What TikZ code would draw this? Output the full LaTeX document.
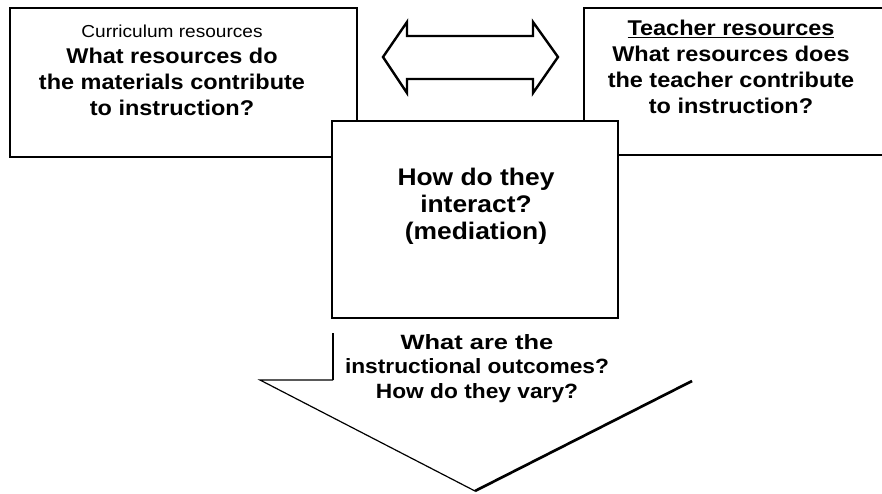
\documentclass[tikz,border=0pt]{standalone}
\usepackage{fontspec}
\setmainfont{Liberation Sans}
\usepackage{graphicx}
\usetikzlibrary{positioning}
\newcommand{\widetext}[1]{\scalebox{1.1}[1]{\begin{tabular}{@{}c@{}}#1\end{tabular}}}

\begin{document}
\begin{tikzpicture}[x=0.75pt,y=-0.75pt,
  box/.style={draw,fill=white,line width=2.2pt},
  boldtext/.style={inner sep=0pt,font=\bfseries\fontsize{16}{19.6}\selectfont}]
 \useasboundingbox (0,0) rectangle (882,493);
 \clip (0,0) rectangle (882,493);
 \draw[box](10,8) rectangle (357,157);
 \draw[box](584,8) rectangle (900,155);
 \draw[box](332,121) rectangle (618,318);
 \draw[line width=1.8pt,line join=miter](383,57)--(407,22)--(407,36)--(533,36)--(533,22)--(558,57)--(533,93)--(533,79)--(407,79)--(407,93)--cycle;
 \draw[line width=2pt](333,333)--(333,380);
 \draw[line width=0.9pt](333,380)--(260,380)--(475,491);
 \draw[line width=2pt](475,491)--(692,381);
 \node[boldtext] (curric) at (172,71) {\widetext{{\mdseries\fontsize{13}{19.6}\selectfont Curriculum resources}\\What resources do\\the materials contribute\\to instruction?}};
 \node[boldtext] (teacher) at (731,69) {\widetext{\underline{Teacher resources}\\What resources does\\the teacher contribute\\to instruction?}};
 \node[boldtext,font=\bfseries\fontsize{18}{20.2}\selectfont] (mediation) at (476,207) {\widetext{How do they\\interact?\\(mediation)}};
 \node[boldtext,font=\bfseries\fontsize{15.5}{18.2}\selectfont] (outcomes) at (477,369) {\widetext{\scalebox{1.12}[1]{What are the}\\instructional outcomes?\\How do they vary?}};
\end{tikzpicture}
\end{document}
